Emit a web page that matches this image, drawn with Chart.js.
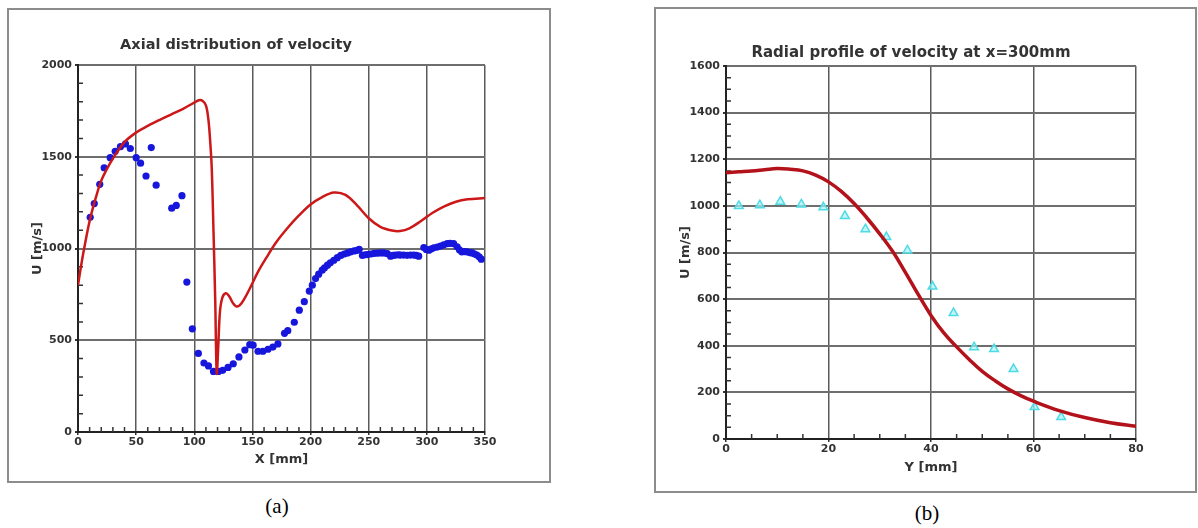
<!DOCTYPE html>
<html>
<head>
<meta charset="utf-8">
<script src="https://cdn.jsdelivr.net/npm/chart.js@4.4.1/dist/chart.umd.min.js"></script>
<style>
  body { margin: 0; width: 1198px; height: 528px; background: #fff; position: relative; overflow: hidden; font-family: "DejaVu Sans", sans-serif; }
  .frame { position: absolute; box-sizing: border-box; border: 2px solid #8c8c8c; }
  canvas { position: absolute; }
  .title { position: absolute; transform: translate(-50%, -50%); font: bold 14.5px "DejaVu Sans", sans-serif; color: #333; white-space: nowrap; }
  .cap { position: absolute; transform: translate(-50%, -50%); font: 21px "Liberation Serif", serif; color: #000; }
</style>
</head>
<body>
<div class="frame" style="left:7px;top:8px;width:544px;height:475px"></div>
<div class="frame" style="left:654px;top:7px;width:543px;height:486px"></div>
<canvas id="axial" width="544" height="475" style="left:7px;top:8px"></canvas>
<canvas id="radial" width="543" height="486" style="left:654px;top:7px"></canvas>
<div class="title" style="left:236px;top:44px">Axial distribution of velocity</div>
<div class="title" style="left:911px;top:52px;font-size:15px">Radial profile of velocity at x=300mm</div>
<div class="cap" style="left:277px;top:506px">(a)</div>
<div class="cap" style="left:927px;top:513px">(b)</div>
<script>
// (a) axial distribution: simulation curve
const axialSimX = [0, 2, 5, 10, 15, 20, 25, 30, 40, 50, 60, 70, 80, 90, 100, 104, 107, 110, 112, 113.5, 115, 116.5, 118, 119.3,
  120.5, 122, 124, 127, 130, 133, 136, 139, 143, 148, 155, 162, 170, 180, 190, 200, 210, 220, 230, 240, 250, 260, 270, 277,
  285, 295, 305, 315, 325, 335, 350];
const axialSimU = [800, 880, 990, 1150, 1270, 1370, 1435, 1490, 1580, 1632, 1668, 1700, 1730, 1760, 1795, 1808, 1805, 1780, 1710, 1600, 1440, 1100, 720, 320,
  450, 650, 730, 756, 740, 705, 685, 690, 725, 785, 875, 950, 1030, 1110, 1180, 1240, 1280, 1305, 1292, 1235, 1165, 1118, 1098, 1095,
  1110, 1150, 1195, 1230, 1255, 1268, 1275];
// (a) measurements
const axialExpX = [10.5, 14, 18.7, 22.5, 27.7, 32, 36.5, 40.8, 45, 50, 53.8, 58.5, 63, 67.2, 80.6, 84.5, 89.4, 93.6, 98.3,
  103.5, 108.3, 112.2, 116.5, 120.7, 124.4, 129, 133.5, 138.4, 143.5, 147.7, 150.6, 154.8, 159, 163.4, 167.6, 171.9, 177.6,
  180.4, 186, 190.3, 194.6, 198.9, 201.5, 204.3, 207, 210, 212, 214.5, 217, 220, 223, 226, 229, 231.8, 234.5, 237.5, 240,
  241.8, 244.6, 247, 249, 252, 254.6, 257.5, 260.3, 263, 266, 268.8, 271, 273, 275.5, 277.4, 280, 283, 286, 288.8, 291, 293,
  297.4, 299.5, 301.7, 304, 306, 309, 311.8, 314.5, 317.5, 320, 323, 326, 328, 330, 332.5, 334.6, 337, 339, 341, 343, 345, 346.8];
const axialExpU = [1170, 1245, 1350, 1440, 1495, 1530, 1555, 1570, 1545, 1495, 1465, 1395, 1550, 1345, 1220, 1235, 1288, 817, 562,
  428, 376, 360, 330, 330, 336, 352, 372, 409, 447, 476, 473, 440, 440, 451, 463, 480, 538,
  552, 598, 664, 710, 768, 800, 836, 860, 882, 895, 909, 922, 936, 950, 962, 970, 976, 982, 987, 990,
  995, 962, 966, 967, 970, 973, 975, 976, 976, 972, 958, 962, 964, 965, 964, 964, 963, 964, 964, 962, 958,
  1005, 995, 991, 998, 1004, 1008, 1013, 1020, 1027, 1028, 1027, 1009, 993, 982, 983, 982, 978, 976, 970, 964, 955, 942];

// (b) radial profile at x=300mm
const radialSimY = [0, 2.5, 5, 7.5, 10, 12.5, 15, 17.5, 20, 22.5, 25, 27.5, 30, 32.5, 35, 37.5, 40, 42.5, 45, 47.5, 50, 52.5, 55, 57.5, 60, 65, 70, 75, 80];
const radialSimU = [1142, 1146, 1150, 1155, 1160, 1157, 1150, 1132, 1103, 1062, 1010, 948, 880, 805, 715, 620, 530, 455, 395, 340, 290, 250, 215, 186, 162, 122, 92, 70, 55];
const radialExpY = [2.5, 6.6, 10.6, 14.7, 19, 23.2, 27.2, 31.3, 35.4, 40.3, 44.4, 48.4, 52.3, 56.1, 60.2, 65.4];
const radialExpU = [1000, 1003, 1018, 1006, 994, 957, 900, 866, 809, 654, 540, 394, 386, 300, 137, 94];

const pts = (xs, ys) => xs.map((x, i) => ({ x, y: ys[i] }));

// short inward ticks between the labelled ones
const minorTicks = {
  id: 'minorTicks',
  beforeDatasetsDraw(chart, args, o) {
    const { ctx, chartArea: a, scales: { x, y } } = chart;
    ctx.save();
    ctx.strokeStyle = '#333';
    ctx.lineWidth = 1.5;
    ctx.beginPath();
    const nx = Math.round((x.max - x.min) / o.xStep);
    for (let i = 1; i < nx; i++) {
      if (i % o.xEvery === 0) continue;
      const px = x.getPixelForValue(x.min + i * o.xStep);
      ctx.moveTo(px, a.bottom);
      ctx.lineTo(px, a.bottom - o.len);
    }
    const ny = Math.round((y.max - y.min) / o.yStep);
    for (let i = 1; i < ny; i++) {
      if (i % o.yEvery === 0) continue;
      const py = y.getPixelForValue(y.min + i * o.yStep);
      ctx.moveTo(a.left, py);
      ctx.lineTo(a.left + o.len, py);
    }
    ctx.stroke();
    ctx.restore();
  },
};

const tickFont = { family: 'DejaVu Sans', size: 11, weight: 'bold' };
const titleFont = { family: 'DejaVu Sans', size: 13, weight: 'bold' };
const plain = (v) => String(v);

function makePanel(id, p) {
  return new Chart(document.getElementById(id), {
    type: 'line',
    data: { datasets: p.datasets },
    plugins: [minorTicks],
    options: {
      responsive: false,
      animation: false,
      layout: { padding: { left: 0, top: p.top, right: p.right, bottom: 0 } },
      plugins: {
        legend: { display: false },
        tooltip: { enabled: false },
        minorTicks: p.minor,
      },
      scales: {
        x: {
          type: 'linear',
          min: p.xMin, max: p.xMax,
          afterFit: (s) => { s.height = p.bottom; },
          ticks: { stepSize: p.xStep, color: '#333', font: tickFont, padding: 1, maxRotation: 0, callback: plain },
          grid: { color: '#5a5a5a', lineWidth: 1.5, tickLength: 3, tickColor: '#333' },
          border: { color: '#222', width: 2 },
          title: { display: true, text: p.xTitle, color: '#333', font: titleFont, padding: { top: 0, bottom: p.xTitlePad } },
        },
        y: {
          min: p.yMin, max: p.yMax,
          afterFit: (s) => { s.width = p.left; },
          ticks: { stepSize: p.yStep, color: '#333', font: tickFont, padding: 3, callback: plain },
          grid: { color: '#6e6e6e', lineWidth: 2, tickLength: 3, tickColor: '#333' },
          border: { color: '#222', width: 2 },
          title: { display: true, text: 'U [m/s]', color: '#333', font: titleFont, padding: { top: p.yTitlePad, bottom: 0 } },
        },
      },
    },
  });
}

makePanel('axial', {
  top: 57, right: 66, bottom: 51, left: 71,
  xMin: 0, xMax: 350, xStep: 50, yMin: 0, yMax: 2000, yStep: 500,
  xTitle: 'X [mm]', xTitlePad: 16, yTitlePad: 23,
  minor: { xStep: 10, xEvery: 5, yStep: 100, yEvery: 5, len: 5 },
  datasets: [
    {
      data: pts(axialSimX, axialSimU),
      borderColor: '#cc1818',
      borderWidth: 2.5,
      pointRadius: 0,
      tension: 0.35,
    },
    {
      data: pts(axialExpX, axialExpU),
      showLine: false,
      pointRadius: 3.6,
      pointBackgroundColor: '#1616dc',
      pointBorderWidth: 0,
    },
  ],
});

makePanel('radial', {
  top: 59, right: 61, bottom: 54, left: 72,
  xMin: 0, xMax: 80, xStep: 20, yMin: 0, yMax: 1600, yStep: 200,
  xTitle: 'Y [mm]', xTitlePad: 18, yTitlePad: 24,
  minor: { xStep: 5, xEvery: 4, yStep: 50, yEvery: 4, len: 5 },
  datasets: [
    {
      data: pts(radialSimY, radialSimU),
      borderColor: '#b3121a',
      borderWidth: 3.5,
      pointRadius: 0,
      tension: 0.4,
    },
    {
      data: pts(radialExpY, radialExpU),
      showLine: false,
      pointStyle: 'triangle',
      pointRadius: 5,
      pointBackgroundColor: 'rgba(170,240,245,0.7)',
      pointBorderColor: '#4fdbe6',
      pointBorderWidth: 1.5,
    },
  ],
});
</script>
</body>
</html>
